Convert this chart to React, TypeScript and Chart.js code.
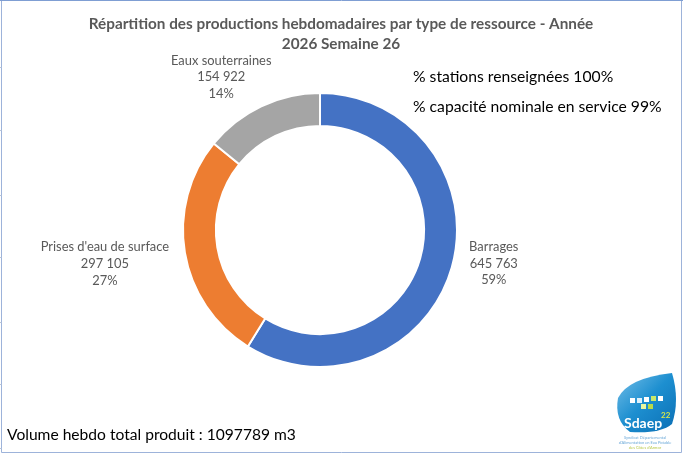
import React, { useEffect, useRef } from "react";
import { Chart, registerables } from "chart.js";

Chart.register(...registerables);

const titleLines = [
  "Répartition des productions hebdomadaires par type de ressource - Année",
  "2026 Semaine 26",
];
const categories = ["Barrages", "Prises d'eau de surface", "Eaux souterraines"];
const volumes = [645763, 297105, 154922];
const sliceColors = ["#4472C4", "#ED7D31", "#A5A5A5"];
const stationsPct = 100;
const capacityPct = 99;
const totalVolume = 1097789;
const labelOffsets = [
  [42, -4],
  [-80, 11],
  [-40, -29],
];

const FONT = "Lato, 'Open Sans', sans-serif";

function fmt(n: number): string {
  return String(n).replace(/\B(?=(\d{3})+(?!\d))/g, " ");
}

function drawLogo(ctx: CanvasRenderingContext2D) {
  ctx.save();
  const g = ctx.createLinearGradient(615, 372, 675, 432);
  g.addColorStop(0, "#7cc3ea");
  g.addColorStop(0.5, "#1d8fd0");
  g.addColorStop(1, "#0b6fb5");
  ctx.fillStyle = g;
  ctx.beginPath();
  ctx.moveTo(618, 398);
  ctx.quadraticCurveTo(628, 378, 672, 373);
  ctx.quadraticCurveTo(680, 400, 672, 424);
  ctx.quadraticCurveTo(660, 434, 630, 432);
  ctx.quadraticCurveTo(614, 420, 618, 398);
  ctx.closePath();
  ctx.fill();
  const sq = [
    [630, 398, "#ffffff"],
    [637, 398, "#dff1fb"],
    [644, 397, "#ffffff"],
    [651, 396, "#c8e86a"],
    [658, 396, "#ffffff"],
    [641, 404, "#e8f6a0"],
    [648, 404, "#b8d94a"],
  ] as [number, number, string][];
  sq.forEach(([x, y, c]) => {
    ctx.fillStyle = c;
    ctx.fillRect(x, y, 5, 5);
  });
  ctx.fillStyle = "#ffffff";
  ctx.font = `bold 14px ${FONT}`;
  ctx.textAlign = "left";
  ctx.textBaseline = "alphabetic";
  ctx.fillText("Sdaep", 624, 428);
  ctx.fillStyle = "#d7e84a";
  ctx.font = `bold 8px ${FONT}`;
  ctx.fillText("22", 661, 418);
  ctx.fillStyle = "#6aa8d8";
  ctx.font = `4px ${FONT}`;
  ctx.textAlign = "center";
  ctx.fillText("Syndicat Départemental", 645, 439);
  ctx.fillText("d'Alimentation en Eau Potable", 645, 444);
  ctx.fillStyle = "#b9c94a";
  ctx.fillText("des Côtes d'Armor", 645, 449);
  ctx.restore();
}

const overlayPlugin = {
  id: "overlay",
  afterDraw(chart: any) {
    const ctx: CanvasRenderingContext2D = chart.ctx;
    ctx.save();

    // frame
    ctx.lineWidth = 1;
    ctx.strokeStyle = "#9db3da";
    ctx.beginPath();
    ctx.moveTo(1.5, 0);
    ctx.lineTo(1.5, 452.5);
    ctx.lineTo(681.5, 452.5);
    ctx.lineTo(681.5, 0);
    ctx.stroke();
    ctx.strokeStyle = "#7f9ed3";
    ctx.beginPath();
    ctx.moveTo(0, 0.5);
    ctx.lineTo(683, 0.5);
    ctx.stroke();
    ctx.strokeStyle = "#b8c4d8";
    [67, 130, 195, 257, 322, 384, 448].forEach((y) => {
      ctx.beginPath();
      ctx.moveTo(0, y + 0.5);
      ctx.lineTo(1.5, y + 0.5);
      ctx.stroke();
    });

    // title
    ctx.fillStyle = "#595959";
    ctx.font = `bold 15.3px ${FONT}`;
    ctx.textAlign = "center";
    ctx.textBaseline = "middle";
    ctx.fillText(titleLines[0], 341, 24);
    ctx.fillText(titleLines[1], 341, 44);

    // slice labels
    const meta = chart.getDatasetMeta(0);
    const total = volumes.reduce((a, b) => a + b, 0);
    ctx.font = `12.9px ${FONT}`;
    ctx.fillStyle = "#595959";
    meta.data.forEach((arc: any, i: number) => {
      const p = arc.getProps(["x", "y", "startAngle", "endAngle", "outerRadius"], true);
      const mid = (p.startAngle + p.endAngle) / 2;
      const ax = p.x + Math.cos(mid) * p.outerRadius + labelOffsets[i][0];
      const ay = p.y + Math.sin(mid) * p.outerRadius + labelOffsets[i][1];
      const lines = [
        categories[i],
        fmt(volumes[i]),
        Math.round((volumes[i] / total) * 100) + "%",
      ];
      lines.forEach((t, k) => ctx.fillText(t, ax, ay + (k - 1) * 16.7));
    });

    // stats text
    ctx.fillStyle = "#000000";
    ctx.font = `15.7px ${FONT}`;
    ctx.textAlign = "left";
    ctx.fillText(`% stations renseignées ${stationsPct}%`, 413, 77);
    ctx.fillText(`% capacité nominale en service ${capacityPct}%`, 413, 107);

    // footer
    ctx.font = `15.6px ${FONT}`;
    ctx.fillText(`Volume hebdo total produit : ${totalVolume} m3`, 7, 435);

    drawLogo(ctx);
    ctx.restore();
  },
};

export default function App() {
  const ref = useRef<HTMLCanvasElement | null>(null);
  useEffect(() => {
    if (!ref.current) return;
    const chart = new Chart(ref.current, {
      type: "doughnut",
      data: {
        labels: categories,
        datasets: [
          {
            data: volumes,
            backgroundColor: sliceColors,
            borderColor: "#ffffff",
            borderWidth: 2,
            hoverOffset: 0,
          },
        ],
      },
      options: {
        responsive: false,
        animation: false,
        cutout: "76%",
        layout: { padding: { left: 182, right: 225, top: 92, bottom: 86 } },
        plugins: {
          legend: { display: false },
          title: { display: false },
          tooltip: { enabled: false },
        },
      },
      plugins: [overlayPlugin],
    });
    return () => chart.destroy();
  }, []);
  return (
    <div style={{ position: "fixed", left: 0, top: 0, width: 683, height: 454, background: "#fff" }}>
      <canvas ref={ref} width={683} height={454} style={{ display: "block" }} />
    </div>
  );
}
